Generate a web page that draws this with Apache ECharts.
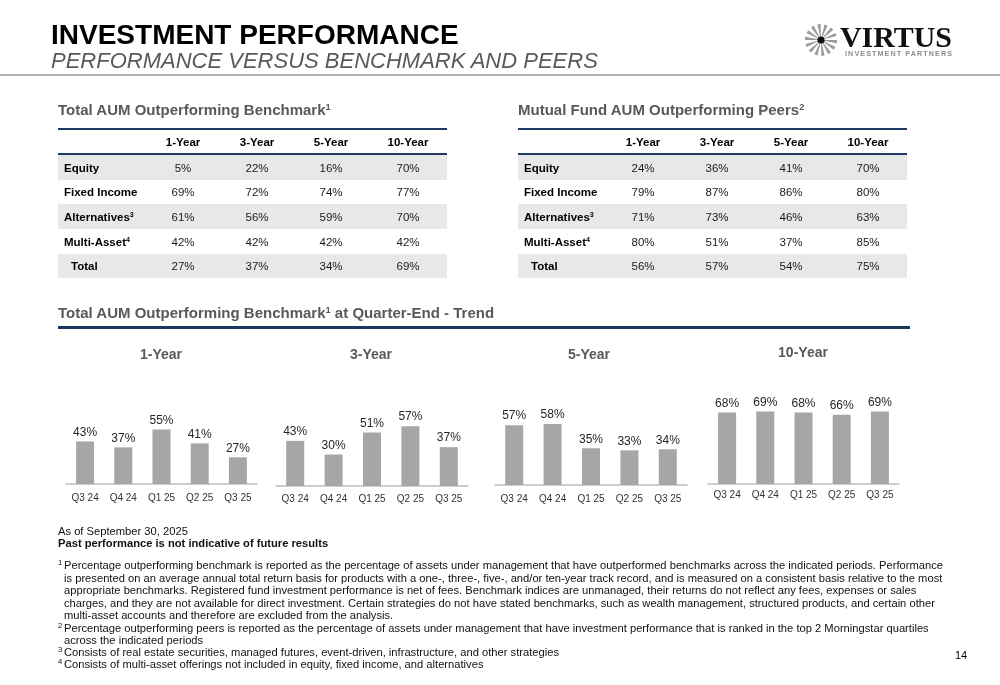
<!DOCTYPE html>
<html>
<head>
<meta charset="utf-8">
<script src="https://cdn.jsdelivr.net/npm/echarts@6/dist/echarts.min.js"></script>
<style>
  html,body{margin:0;padding:0;background:#fff;}
  body{width:1000px;height:685px;position:relative;overflow:hidden;font-family:"Liberation Sans",Arial,sans-serif;}
  .abs{position:absolute;white-space:nowrap;}
  #chart{position:absolute;left:0;top:0;width:1000px;height:685px;}
  .sup{font-size:0.62em;vertical-align:0.55em;line-height:0;}
  .fn{position:absolute;left:0;white-space:nowrap;font-family:"Liberation Sans",Arial,sans-serif;font-size:11.6px;line-height:12px;color:#111;transform-origin:0 50%;}
</style>
</head>
<body>
<div id="chart"></div>

<!-- Header -->
<div class="abs" style="left:51px;top:18px;font-size:28px;font-weight:bold;color:#000;line-height:34px;">INVESTMENT PERFORMANCE</div>
<div class="abs" style="left:51px;top:48px;font-size:22px;font-style:italic;color:#595959;line-height:26px;">PERFORMANCE VERSUS BENCHMARK AND PEERS</div>
<div class="abs" style="left:0;top:74px;width:1000px;height:2px;background:#b3b3b3;"></div>

<!-- Logo -->
<svg class="abs" style="left:800px;top:22px;" width="160" height="40" viewBox="0 0 160 40">
  <g id="burst" transform="translate(21,18)"></g>
  <text x="40" y="25" font-family="Liberation Serif, Times New Roman, serif" font-weight="bold" font-size="29" fill="#111" textLength="112" lengthAdjust="spacingAndGlyphs">VIRTUS</text>
  <text x="45" y="34" font-family="Liberation Sans, Arial, sans-serif" font-weight="bold" font-size="7.2" fill="#8c8c8c" textLength="107" lengthAdjust="spacing">INVESTMENT PARTNERS</text>
</svg>

<!-- Table titles -->
<div class="abs" style="left:58px;top:101px;font-size:15px;font-weight:bold;color:#595959;line-height:18px;">Total AUM Outperforming Benchmark<span class="sup">1</span></div>
<div class="abs" style="left:518px;top:101px;font-size:15px;font-weight:bold;color:#595959;line-height:18px;">Mutual Fund AUM Outperforming Peers<span class="sup">2</span></div>

<div id="tables"></div>

<!-- Trend title -->
<div class="abs" style="left:58px;top:304px;font-size:15px;font-weight:bold;color:#595959;line-height:18px;">Total AUM Outperforming Benchmark<span class="sup">1</span> at Quarter-End - Trend</div>
<div class="abs" style="left:58px;top:326px;width:852px;height:3px;background:#17375e;"></div>

<div id="charttitles"></div>

<!-- Footnotes -->
<div id="footnotes"></div>
<div class="abs" style="left:955px;top:648px;font-size:11px;line-height:14px;color:#000;">14</div>

<script>
// ---------------- DATA ----------------
var tableColumns = ['1-Year', '3-Year', '5-Year', '10-Year'];
var rowLabels = ['Equity', 'Fixed Income', 'Alternatives', 'Multi-Asset', 'Total'];
var rowSups = ['', '', '3', '4', ''];
var benchEquity = ['5%', '22%', '16%', '70%'];
var benchFixedIncome = ['69%', '72%', '74%', '77%'];
var benchAlternatives = ['61%', '56%', '59%', '70%'];
var benchMultiAsset = ['42%', '42%', '42%', '42%'];
var benchTotal = ['27%', '37%', '34%', '69%'];
var peersEquity = ['24%', '36%', '41%', '70%'];
var peersFixedIncome = ['79%', '87%', '86%', '80%'];
var peersAlternatives = ['71%', '73%', '46%', '63%'];
var peersMultiAsset = ['80%', '51%', '37%', '85%'];
var peersTotal = ['56%', '57%', '54%', '75%'];

var quarters = ['Q3 24', 'Q4 24', 'Q1 25', 'Q2 25', 'Q3 25'];
var trendTitles = ['1-Year', '3-Year', '5-Year', '10-Year'];
var trend1Year = [43, 37, 55, 41, 27];
var trend3Year = [43, 30, 51, 57, 37];
var trend5Year = [57, 58, 35, 33, 34];
var trend10Year = [68, 69, 68, 66, 69];

var footnoteIntro = ['As of September 30, 2025', 'Past performance is not indicative of future results'];
var footnotes = [
  ['1', ['Percentage outperforming benchmark is reported as the percentage of assets under management that have outperformed benchmarks across the indicated periods. Performance',
         'is presented on an average annual total return basis for products with a one-, three-, five-, and/or ten-year track record, and is measured on a consistent basis relative to the most',
         'appropriate benchmarks. Registered fund investment performance is net of fees. Benchmark indices are unmanaged, their returns do not reflect any fees, expenses or sales',
         'charges, and they are not available for direct investment. Certain strategies do not have stated benchmarks, such as wealth management, structured products, and certain other',
         'multi-asset accounts and therefore are excluded from the analysis.']],
  ['2', ['Percentage outperforming peers is reported as the percentage of assets under management that have investment performance that is ranked in the top 2 Morningstar quartiles',
         'across the indicated periods']],
  ['3', ['Consists of real estate securities, managed futures, event-driven, infrastructure, and other strategies']],
  ['4', ['Consists of multi-asset offerings not included in equity, fixed income, and alternatives']]
];

// ---------------- LOGO BURST ----------------
(function(){
  var g = document.getElementById('burst');
  var ns = 'http://www.w3.org/2000/svg';
  var n = 14;
  for (var i = 0; i < n; i++) {
    var a = i * 2 * Math.PI / n + 0.1;
    var p = document.createElementNS(ns, 'polygon');
    var r1 = 3, r2 = 16, w = 0.1;
    var pts = [
      [Math.cos(a - 0.12) * r1, Math.sin(a - 0.12) * r1],
      [Math.cos(a - w) * r2, Math.sin(a - w) * r2],
      [Math.cos(a + w) * r2, Math.sin(a + w) * r2],
      [Math.cos(a + 0.12) * r1, Math.sin(a + 0.12) * r1]
    ].map(function(q){return q[0].toFixed(2)+','+q[1].toFixed(2);}).join(' ');
    p.setAttribute('points', pts);
    p.setAttribute('fill', '#9a9a9a');
    g.appendChild(p);
  }
  var c = document.createElementNS(ns, 'circle');
  c.setAttribute('r', '3.6'); c.setAttribute('fill', '#111');
  g.appendChild(c);
})();

// ---------------- TABLES ----------------
function buildTable(left, rows) {
  var host = document.getElementById('tables');
  var width = 389;
  var colCenters = [125, 199, 273, 350];
  var html = '';
  html += '<div class="abs" style="left:'+left+'px;top:128px;width:'+width+'px;height:2px;background:#1f3864;"></div>';
  tableColumns.forEach(function(c, i){
    html += '<div class="abs" style="left:'+(left+colCenters[i]-40)+'px;width:80px;text-align:center;top:134px;font-size:11.5px;font-weight:bold;line-height:16px;color:#000;">'+c+'</div>';
  });
  html += '<div class="abs" style="left:'+left+'px;top:153px;width:'+width+'px;height:2px;background:#1f3864;"></div>';
  var rowH = 24.7;
  rows.forEach(function(vals, r){
    var top = 155 + r * rowH;
    if (r % 2 === 0) {
      html += '<div class="abs" style="left:'+left+'px;top:'+top.toFixed(1)+'px;width:'+width+'px;height:'+rowH+'px;background:#e8e8e8;"></div>';
    }
    var lx = left + (r === rows.length - 1 ? 13 : 6);
    var sup = rowSups[r] ? '<span class="sup">'+rowSups[r]+'</span>' : '';
    html += '<div class="abs" style="left:'+lx+'px;top:'+(top+4.5).toFixed(1)+'px;font-size:11.5px;font-weight:bold;line-height:16px;color:#000;">'+rowLabels[r]+sup+'</div>';
    vals.forEach(function(v, i){
      html += '<div class="abs" style="left:'+(left+colCenters[i]-40)+'px;width:80px;text-align:center;top:'+(top+4.5).toFixed(1)+'px;font-size:11.5px;line-height:16px;color:#1a1a1a;">'+v+'</div>';
    });
  });
  host.insertAdjacentHTML('beforeend', html);
}
buildTable(58, [benchEquity, benchFixedIncome, benchAlternatives, benchMultiAsset, benchTotal]);
buildTable(518, [peersEquity, peersFixedIncome, peersAlternatives, peersMultiAsset, peersTotal]);

// ---------------- CHART TITLES ----------------
(function(){
  var centers = [[161, 354], [371, 354], [589, 354], [803, 352]];
  var html = '';
  trendTitles.forEach(function(t, i){
    html += '<div class="abs" style="left:'+(centers[i][0]-50)+'px;width:100px;text-align:center;top:'+(centers[i][1]-9)+'px;font-size:14px;font-weight:bold;color:#595959;line-height:18px;">'+t+'</div>';
  });
  document.getElementById('charttitles').innerHTML = html;
})();

// ---------------- FOOTNOTES ----------------
(function(){
  var host = document.getElementById('footnotes');
  var html = '';
  html += '<div class="fn" style="left:58px;top:525px;">'+footnoteIntro[0]+'</div>';
  html += '<div class="fn" style="left:58px;top:537px;font-weight:bold;">'+footnoteIntro[1]+'</div>';
  var y = 559;
  var gaps = [12.6, 12, 11.5, 11.5];
  footnotes.forEach(function(fn, k){
    fn[1].forEach(function(line, j){
      if (j === 0) {
        html += '<div class="fn" style="left:58px;top:'+(y-2).toFixed(1)+'px;font-size:8px;">'+fn[0]+'</div>';
      }
      html += '<div class="fn fnline" style="left:64px;top:'+y.toFixed(1)+'px;">'+line+'</div>';
      y += gaps[k];
    });
  });
  host.innerHTML = html;
  // emulate the narrow face of the original: compress horizontally so line 1 spans its width
  var first = host.querySelector('.fnline');
  var k = 879 / first.getBoundingClientRect().width;
  host.querySelectorAll('.fn').forEach(function(el){ el.style.transform = 'scaleX(' + k.toFixed(4) + ')'; });
})();

// ---------------- CHARTS ----------------
var chart = echarts.init(document.getElementById('chart'), null, {renderer: 'canvas'});
var trendSeries = [trend1Year, trend3Year, trend5Year, trend10Year];
var grids = [
  {left: 66, top: 385, width: 191, height: 99},
  {left: 276, top: 381, width: 192, height: 105},
  {left: 495, top: 380, width: 192, height: 105},
  {left: 708, top: 379, width: 191, height: 105}
];
var labelMargins = [9, 8, 9, 6];
var option = {
  animation: false,
  grid: grids,
  xAxis: grids.map(function(g, i){
    return {
      type: 'category', gridIndex: i, data: quarters,
      axisLine: {lineStyle: {color: '#bfbfbf', width: 1.5}},
      axisTick: {show: false},
      axisLabel: {fontSize: 10, color: '#333', margin: labelMargins[i], fontFamily: 'Liberation Sans, Arial, sans-serif'}
    };
  }),
  yAxis: grids.map(function(g, i){
    return {type: 'value', gridIndex: i, min: 0, max: 100, show: false};
  }),
  series: trendSeries.map(function(d, i){
    return {
      type: 'bar', xAxisIndex: i, yAxisIndex: i, data: d, barWidth: 18,
      itemStyle: {color: '#a6a6a6'},
      label: {show: true, position: 'top', distance: 3, formatter: '{c}%', fontSize: 12, color: '#262626', fontFamily: 'Liberation Sans, Arial, sans-serif'}
    };
  })
};
chart.setOption(option);
</script>
</body>
</html>
